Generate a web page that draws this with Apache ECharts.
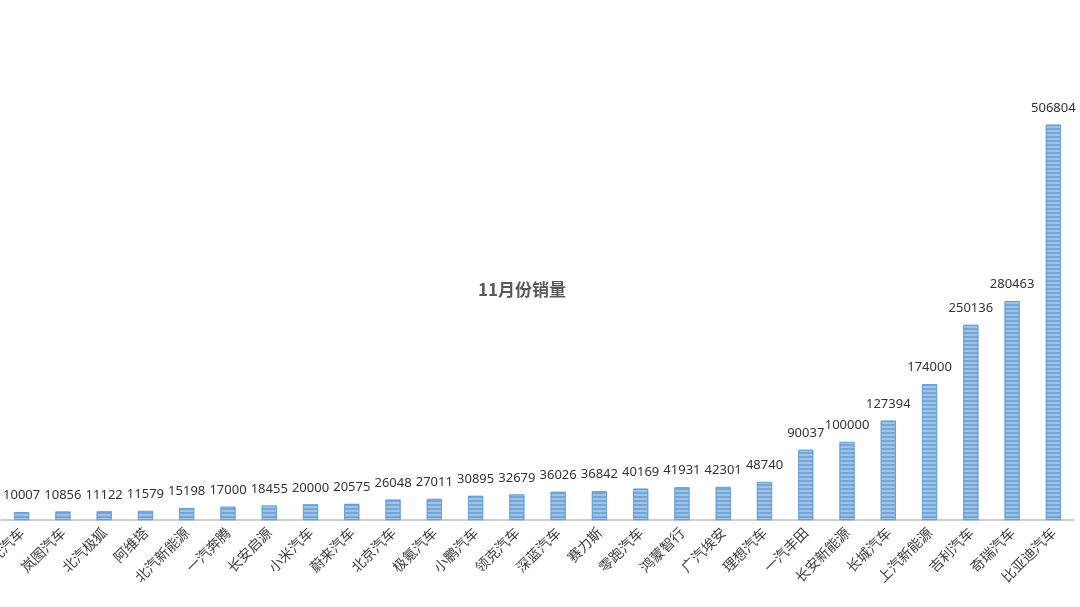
<!DOCTYPE html>
<html>
<head>
<meta charset="utf-8">
<script src="https://cdn.jsdelivr.net/npm/echarts@6/dist/echarts.min.js"></script>
<style>html,body{margin:0;padding:0;background:#fff;}</style>
</head>
<body>
<div id="main" style="width:1080px;height:607px;"></div>
<script>
var categories = ['哪吒汽车','岚图汽车','北汽极狐','阿维塔','北汽新能源','一汽奔腾','长安启源','小米汽车','蔚来汽车','北京汽车','极氪汽车','小鹏汽车','领克汽车','深蓝汽车','赛力斯','零跑汽车','鸿蒙智行','广汽埃安','理想汽车','一汽丰田','长安新能源','长城汽车','上汽新能源','吉利汽车','奇瑞汽车','比亚迪汽车'];
var sales = [10007,10856,11122,11579,15198,17000,18455,20000,20575,26048,27011,30895,32679,36026,36842,40169,41931,42301,48740,90037,100000,127394,174000,250136,280463,506804];

var myChart = echarts.init(document.getElementById('main'));
var option = {
    animation: false,
    title: {
        text: '11月份销量',
        left: 517, top: 276, textAlign: 'center',
        textStyle: {fontFamily: 'Noto Sans CJK SC', fontSize: 17, fontWeight: 'bold', color: '#595959'}
    },
    aria: {enabled: true, decal: {show: true}},
    grid: {left: 1, right: 6, top: 91, bottom: 87, containLabel: false, outerBoundsMode: 'none'},
    xAxis: {
        type: 'category',
        data: categories,
        axisLine: {lineStyle: {color: '#bfbfbf', width: 1.5}},
        axisTick: {show: false},
        axisLabel: {rotate: 45, interval: 0, fontSize: 14, color: '#404040', fontFamily: 'Noto Sans CJK SC', margin: 10}
    },
    yAxis: {type: 'value', min: 0, max: 550000, show: false, splitLine: {show: false}},
    series: [{
        type: 'bar',
        data: sales,
        barWidth: 15,
        itemStyle: {
            color: '#9DC3E6',
            borderColor: '#5B9BD5',
            borderWidth: 0.6,
            decal: {symbol: 'rect', dashArrayX: [1, 0], dashArrayY: [1.5, 1.5], color: 'rgba(70,130,200,0.45)', rotation: 0}
        },
        label: {show: true, position: 'top', distance: 10, fontSize: 13, color: '#333', fontFamily: 'Noto Sans'}
    }]
};
myChart.setOption(option);
</script>
</body>
</html>
